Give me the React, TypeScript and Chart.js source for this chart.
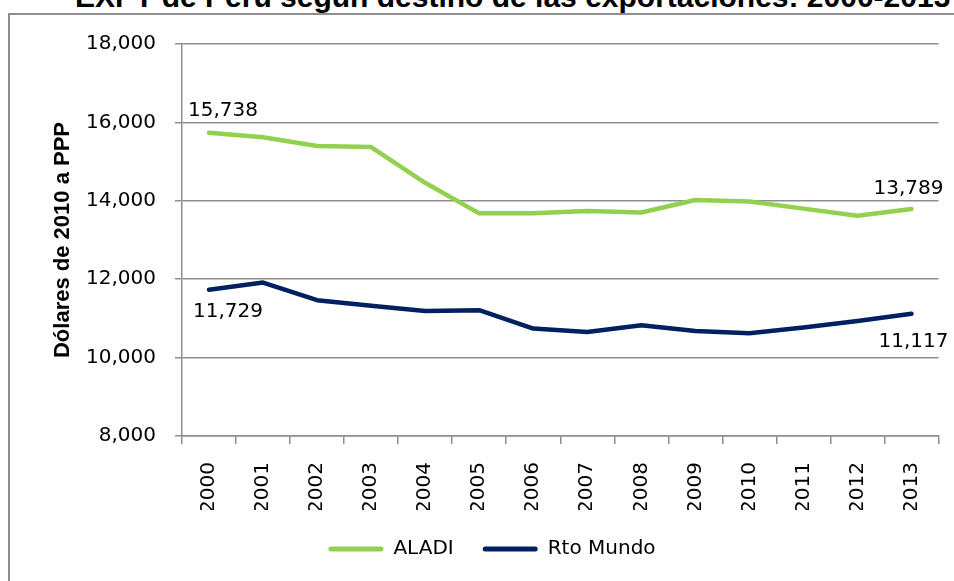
import React, { useEffect, useRef } from "react";
import { Chart, registerables } from "chart.js";

Chart.register(...registerables);

const years = ["2000", "2001", "2002", "2003", "2004", "2005", "2006", "2007", "2008", "2009", "2010", "2011", "2012", "2013"];
const aladi = [15738, 15620, 15400, 15370, 14460, 13680, 13680, 13740, 13700, 14020, 13980, 13800, 13620, 13789];
const rtoMundo = [11729, 11915, 11465, 11320, 11190, 11210, 10740, 10655, 10825, 10680, 10620, 10765, 10935, 11117];
const yTicks = [8000, 10000, 12000, 14000, 16000, 18000];

const titleText = "EXPT de Perú según destino de las exportaciones: 2000-2013";
const yTitle = "Dólares de 2010 a PPP";

const fmt = (v: number) => v.toLocaleString("en-US");

// which points carry a value label, and where the label sits relative to the point
const labelSpecs = [
  { ds: 0, idx: 0, dx: 14, dy: -22 },
  { ds: 1, idx: 0, dx: 19, dy: 22 },
  { ds: 0, idx: 13, dx: -3, dy: -20 },
  { ds: 1, idx: 13, dx: 2, dy: 28 },
];

const GRID = "#8e8e8e";
const FONT = "DejaVu Sans";

const endLabels = {
  id: "endLabels",
  afterDatasetsDraw(chart: any) {
    const ctx = chart.ctx;
    ctx.save();
    ctx.font = `20px "${FONT}"`;
    ctx.fillStyle = "#000";
    ctx.textAlign = "center";
    ctx.textBaseline = "middle";
    labelSpecs.forEach(({ ds, idx, dx, dy }) => {
      const el = chart.getDatasetMeta(ds).data[idx];
      const v = chart.data.datasets[ds].data[idx];
      ctx.fillText(fmt(v), el.x + dx, el.y + dy);
    });
    ctx.restore();
  },
};

export default function App() {
  const ref = useRef<HTMLCanvasElement | null>(null);

  useEffect(() => {
    if (!ref.current) return;
    const chart = new Chart(ref.current, {
      type: "line",
      data: {
        labels: years,
        datasets: [
          {
            label: "ALADI",
            data: aladi,
            borderColor: "#92D050",
            backgroundColor: "#92D050",
            borderWidth: 4.5,
            pointRadius: 0,
            tension: 0,
            borderCapStyle: "round",
            borderJoinStyle: "round",
          },
          {
            label: "Rto Mundo",
            data: rtoMundo,
            borderColor: "#002060",
            backgroundColor: "#002060",
            borderWidth: 4.5,
            pointRadius: 0,
            tension: 0,
            borderCapStyle: "round",
            borderJoinStyle: "round",
          },
        ],
      },
      options: {
        animation: false,
        responsive: true,
        maintainAspectRatio: false,
        layout: { padding: { left: 44, right: 14, top: 44, bottom: 31 } },
        plugins: {
          title: { display: false },
          tooltip: { enabled: false },
          legend: {
            position: "bottom",
            labels: {
              font: { family: FONT, size: 20 },
              color: "#000",
              boxWidth: 55,
              boxHeight: 5,
              padding: 29,
              generateLabels: (c: any) =>
                c.data.datasets.map((d: any, i: number) => ({
                  text: d.label,
                  fillStyle: d.borderColor,
                  strokeStyle: d.borderColor,
                  lineWidth: 0,
                  borderRadius: 2.5,
                  hidden: false,
                  datasetIndex: i,
                  fontColor: "#000",
                })),
            },
          },
        },
        scales: {
          x: {
            type: "category",
            offset: true,
            afterFit: (s: any) => {
              s.height = 74;
            },
            grid: {
              offset: true,
              drawOnChartArea: false,
              drawTicks: true,
              tickLength: 8,
              color: GRID,
              lineWidth: 1.5,
            },
            border: { display: true, color: GRID, width: 1.5 },
            ticks: {
              minRotation: 90,
              maxRotation: 90,
              padding: 18,
              color: "#000",
              font: { family: FONT, size: 20 },
              autoSkip: false,
            },
          },
          y: {
            min: 8000,
            max: 18000,
            afterFit: (s: any) => {
              s.width = 138;
            },
            afterBuildTicks: (s: any) => {
              s.ticks = yTicks.map((v) => ({ value: v }));
            },
            grid: {
              drawOnChartArea: true,
              drawTicks: true,
              tickLength: 7,
              color: GRID,
              lineWidth: 1.5,
            },
            border: { display: true, color: GRID, width: 1.5 },
            ticks: {
              padding: 19,
              color: "#000",
              font: { family: FONT, size: 20 },
              callback: (v: any) => fmt(Number(v)),
            },
            title: {
              display: true,
              text: yTitle,
              color: "#000",
              font: { family: "Liberation Sans", size: 22, weight: "bold" },
              padding: { top: 6, bottom: 0 },
            },
          },
        },
      },
      plugins: [endLabels],
    });
    return () => chart.destroy();
  }, []);

  return (
    <div
      style={{
        position: "fixed",
        left: 0,
        top: 0,
        width: 954,
        height: 581,
        overflow: "hidden",
        background: "#fff",
      }}
    >
      <div
        style={{
          position: "absolute",
          left: 8,
          top: 13,
          width: 2000,
          height: 2000,
          border: "2px solid #8e8e8e",
        }}
      />
      <div
        style={{
          position: "absolute",
          left: 75,
          top: -18.4,
          whiteSpace: "nowrap",
          fontFamily: "'Liberation Sans', Arial, sans-serif",
          fontWeight: "bold",
          fontSize: 30,
          lineHeight: "30px",
          color: "#000",
        }}
      >
        {titleText}
      </div>
      <div style={{ position: "absolute", left: 0, top: 0, width: 954, height: 600 }}>
        <canvas ref={ref} />
      </div>
    </div>
  );
}
